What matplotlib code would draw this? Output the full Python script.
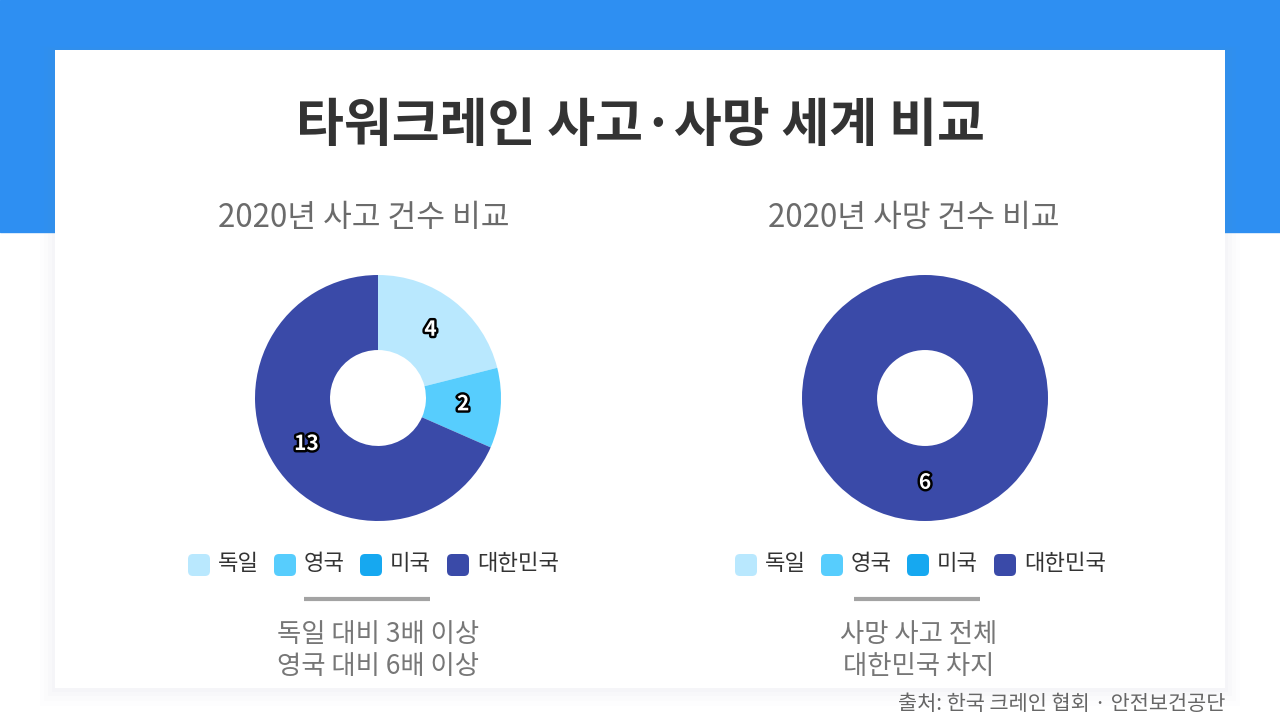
import numpy as np
import matplotlib
matplotlib.use("Agg")
import matplotlib.pyplot as plt
from matplotlib.patches import Rectangle, FancyBboxPatch
import matplotlib.patheffects as pe

plt.rcParams['font.family'] = ['Noto Sans CJK KR', 'DejaVu Sans']

# ---- data ----
title = "타워크레인 사고·사망 세계 비교"
countries = ['독일', '영국', '미국', '대한민국']
colors = ['#b9e8fe', '#57cdfd', '#16a8f0', '#3a4aa8']
accidents = [4, 2, 0, 13]
deaths = [0, 0, 0, 6]
chart_titles = ["2020년 사고 건수 비교", "2020년 사망 건수 비교"]
notes = [["독일 대비 3배 이상", "영국 대비 6배 이상"],
         ["사망 사고 전체", "대한민국 차지"]]
source = "출처: 한국 크레인 협회 · 안전보건공단"

W, H = 1280, 720
fig = plt.figure(figsize=(W / 100, H / 100), dpi=100)
bg = fig.add_axes([0, 0, 1, 1])
bg.set_xlim(0, W)
bg.set_ylim(H, 0)
bg.axis('off')

# background band
bg.add_patch(Rectangle((0, 0), W, 232, color='#2e8ff2', zorder=0))
# card shadow
for i, a in enumerate([0.025, 0.02, 0.015, 0.01]):
    d = 3 + i * 4
    bg.add_patch(Rectangle((55 - d, 50 - d * 0.3), 1170 + 2 * d, 638 + d * 1.5,
                           color='#8090b0', alpha=a, lw=0, zorder=1))
bg.add_patch(Rectangle((55, 50), 1170, 638, color='white', lw=0, zorder=2))

bg.text(640, 125, title, ha='center', va='center', fontsize=37.5,
        fontweight='bold', color='#333333', zorder=3)

centers = [378, 925]
title_x = [364, 914]
note_x = [378, 919]
sep_x = [304, 854]
datasets = [accidents, deaths]
R = 123
cy = 398
for k, (cx, vals) in enumerate(zip(centers, datasets)):
    bg.text(title_x[k], 218, chart_titles[k], ha='center', va='center', fontsize=22.5,
            color='#6b6b6b', zorder=3)
    ax = fig.add_axes([(cx - R) / W, 1 - (cy + R) / H, 2 * R / W, 2 * R / H])
    ax.set_zorder(5)
    wedges, _ = ax.pie(vals, colors=colors, startangle=90, counterclock=False,
                       radius=1, wedgeprops=dict(width=0.61, linewidth=0))
    ax.set_xlim(-1, 1)
    ax.set_ylim(-1, 1)
    ax.set_aspect('equal')
    ax.axis('off')
    for w, v in zip(wedges, vals):
        if v <= 0:
            continue
        ang = np.deg2rad((w.theta1 + w.theta2) / 2)
        r = 0.695
        ax.text(r * np.cos(ang), r * np.sin(ang) + 0.01, str(v), ha='center', va='center',
                fontsize=15, fontweight='bold', color='white',
                path_effects=[pe.withStroke(linewidth=3.5, foreground='black')])
    # legend
    off = cx - 378
    sq_x = [188, 274, 360, 447]
    for i, name in enumerate(countries):
        x0 = sq_x[i] + off
        bg.add_patch(FancyBboxPatch((x0 + 3, 557), 16, 16,
                                    boxstyle='round,pad=3,rounding_size=5',
                                    color=colors[i], lw=0, zorder=3))
        bg.text(x0 + 30, 564, name, ha='left', va='center', fontsize=16,
                color='#333333', zorder=3)
    # separator
    bg.plot([sep_x[k], sep_x[k] + 126], [599, 599], color='#a3a3a3', lw=3,
            solid_capstyle='butt', zorder=3)
    # notes
    bg.text(note_x[k], 635, notes[k][0], ha='center', va='center', fontsize=19,
            fontweight='light', color='#777777', zorder=3)
    bg.text(note_x[k], 667, notes[k][1], ha='center', va='center', fontsize=19,
            fontweight='light', color='#777777', zorder=3)

bg.text(1225, 704, source, ha='right', va='center', fontsize=15,
        color='#666666', zorder=3)

fig.savefig('out.png', dpi=100)
